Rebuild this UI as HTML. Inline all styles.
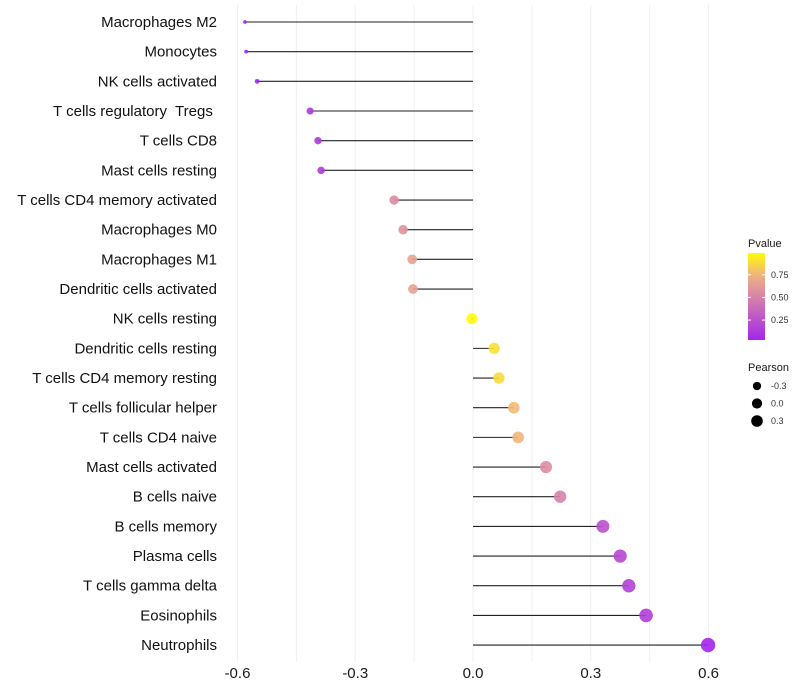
<!DOCTYPE html>
<html><head><meta charset="utf-8"><style>
body{margin:0;background:#fff;}
svg{display:block;font-family:"Liberation Sans",sans-serif;}
text{white-space:pre;}
</style></head><body>
<svg id="chart" width="800" height="700"></svg>
<script>
const categories=["Macrophages M2","Monocytes","NK cells activated","T cells regulatory  Tregs ","T cells CD8","Mast cells resting","T cells CD4 memory activated","Macrophages M0","Macrophages M1","Dendritic cells activated","NK cells resting","Dendritic cells resting","T cells CD4 memory resting","T cells follicular helper","T cells CD4 naive","Mast cells activated","B cells naive","B cells memory","Plasma cells","T cells gamma delta","Eosinophils","Neutrophils"];
const pearson=[-0.581,-0.578,-0.55,-0.415,-0.395,-0.387,-0.201,-0.178,-0.155,-0.153,-0.003,0.054,0.066,0.104,0.115,0.186,0.222,0.331,0.375,0.397,0.441,0.599];
const pvalue=[0.01,0.01,0.02,0.12,0.13,0.14,0.55,0.6,0.66,0.66,0.99,0.9,0.88,0.77,0.76,0.55,0.5,0.25,0.2,0.18,0.15,0.03];
const xTicks=[-0.6,-0.3,0,0.3,0.6];
const xTickLabels=["-0.6","-0.3","0.0","0.3","0.6"];
const gridVals=[-0.6,-0.45,-0.3,-0.15,0,0.15,0.3,0.45,0.6];
const legendP=[0.25,0.5,0.75];
const legendS=[-0.3,0,0.3];

const NS="http://www.w3.org/2000/svg";
const svg=document.getElementById('chart');
const x=v=>473+v*392.5;
const y=i=>22+i*29.67;
const r=v=>1.3+5.9*Math.sqrt(Math.max(0,(v+0.59)/1.19));
function lerp(a,b,t){return a.map((c,i)=>Math.round(c+(b[i]-c)*t));}
function color(p){
  const stops=[[0,[160,32,240]],[0.5,[214,130,170]],[0.75,[240,180,128]],[1,[255,255,0]]];
  for(let k=1;k<stops.length;k++){if(p<=stops[k][0]){const t=(p-stops[k-1][0])/(stops[k][0]-stops[k-1][0]);return 'rgb('+lerp(stops[k-1][1],stops[k][1],t).join(',')+')';}}
  return 'rgb(255,255,0)';
}
function el(tag,attrs,parent){const e=document.createElementNS(NS,tag);for(const k in attrs)e.setAttribute(k,attrs[k]);(parent||svg).appendChild(e);return e;}

gridVals.forEach(v=>{
  const g=el('line',{x1:x(v),x2:x(v),y1:5,y2:662,stroke:'#f0f0f0','stroke-width':1});
  
  
});
xTicks.forEach((v,i)=>{
  const t=el('text',{x:x(v),y:678,'text-anchor':'middle','font-size':15,fill:'#1a1a1a'});
  t.textContent=xTickLabels[i];
  
  
});
categories.forEach((c,i)=>{
  const t=el('text',{x:217,y:y(i)+5,'text-anchor':'end','font-size':15,fill:'#111'});
  t.textContent=c;
  
  
  const l=el('line',{x1:x(0),x2:x(pearson[i]),y1:y(i),y2:y(i),stroke:'#222','stroke-width':1.1});
  
  
  const d=el('circle',{cx:x(pearson[i]),cy:y(i),r:r(pearson[i]),fill:color(pvalue[i]),'fill-opacity':0.9});
  
  
});
const defs=el('defs',{});
const lg=el('linearGradient',{id:'pg',x1:0,y1:1,x2:0,y2:0},defs);
for(let k=0;k<=10;k++){el('stop',{offset:k/10,'stop-color':color(0.03+k*0.096)},lg);}
const lt=el('text',{x:748,y:247,'font-size':11,fill:'#1a1a1a'});lt.textContent='Pvalue';


const bar=el('rect',{x:748,y:253,width:17,height:87,fill:'url(#pg)'});


legendP.forEach(p=>{
  const yy=340-(p-0.03)/0.96*87;
  el('line',{x1:748,x2:751,y1:yy,y2:yy,stroke:'#fff'});el('line',{x1:762,x2:765,y1:yy,y2:yy,stroke:'#fff'});
  const t=el('text',{x:771,y:yy+3,'font-size':9,fill:'#333'});t.textContent=p.toFixed(2);
  
  
});
const st=el('text',{x:748,y:371,'font-size':11,fill:'#1a1a1a'});st.textContent='Pearson';


legendS.forEach((s,i)=>{
  const yy=386+i*17.5;
  const c=el('circle',{cx:757,cy:yy,r:r(s)*0.75+1,fill:'#000'});
  
  
  const t=el('text',{x:771,y:yy+3,'font-size':9,fill:'#333'});t.textContent=s.toFixed(1);
  
  
});
</script>
</body></html>
